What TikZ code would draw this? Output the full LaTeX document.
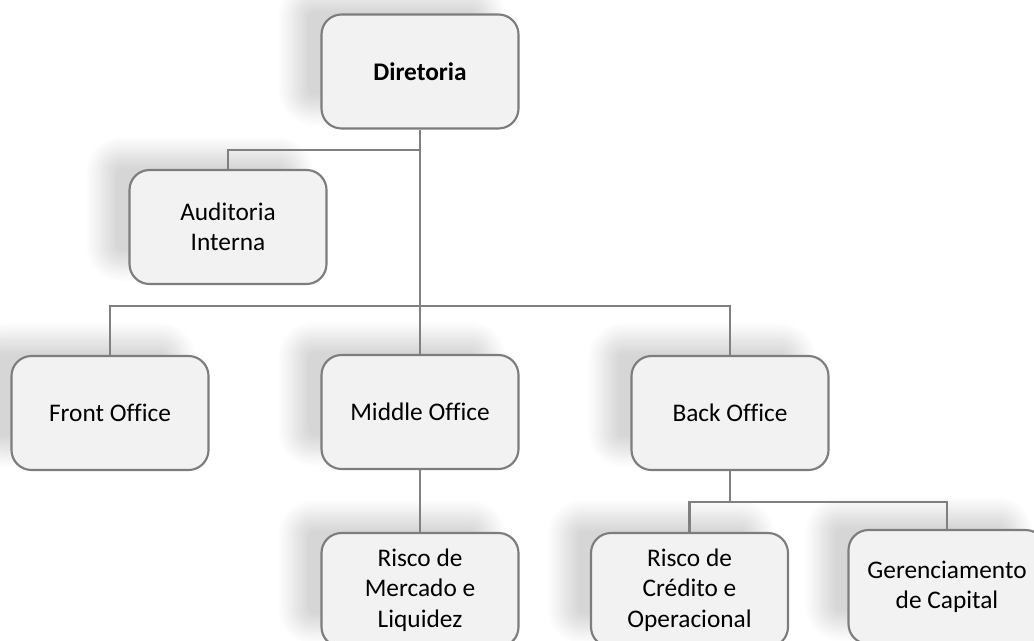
\documentclass[tikz,border=0pt]{standalone}
\usepackage{fontspec}
\setmainfont[Ligatures=NoCommon]{Carlito}
\usetikzlibrary{shadows.blur}
\definecolor{boxfill}{RGB}{242,242,242}
\definecolor{boxline}{RGB}{125,125,125}
\definecolor{linkgray}{RGB}{128,128,128}
\tikzset{
  orgbox/.style={draw=boxline, fill=boxfill, line width=1.6pt, rounded corners=15pt,
    minimum width=147.75pt, minimum height=85.5pt, inner sep=0pt, align=center,
    font=\fontsize{19}{22.9}\selectfont,
    blur shadow={shadow xshift=-21pt, shadow yshift=13.5pt, shadow blur radius=12pt,
      shadow opacity=16, shadow blur steps=14}},
  link/.style={draw=linkgray, line width=2pt}
}
\begin{document}
\begin{tikzpicture}[x=0.75pt,y=-0.75pt]
\useasboundingbox (0,0) rectangle (1034,641);
\node[orgbox, font=\fontsize{19}{22.9}\selectfont\bfseries] (dir) at (420,71.5) {Diretoria};
\node[orgbox] (aud) at (228,227) {Auditoria\\Interna};
\node[orgbox] (front) at (110,413) {Front Office};
\node[orgbox] (mid) at (420,412) {Middle Office};
\node[orgbox] (back) at (730,413) {Back Office};
\node[orgbox] (rm) at (420,590) {Risco de\\Mercado e\\Liquidez};
\node[orgbox] (rc) at (689.5,590) {Risco de\\Crédito e\\Operacional};
\node[orgbox] (gc) at (947,587) {Gerenciamento\\de Capital};
\coordinate (j1) at (420,150);
\coordinate (j2) at (420,306);
\coordinate (j3) at (730,502);
\draw[link] (dir.south) -- (mid.north);
\draw[link] (j1) -| (aud.north);
\draw[link] (front.north) |- (j2) -| (back.north);
\draw[link] (mid.south) -- (rm.north);
\draw[link] (back.south) -- (j3);
\draw[link] (rc.north) |- (j3) -| (gc.north);
\end{tikzpicture}
\end{document}
